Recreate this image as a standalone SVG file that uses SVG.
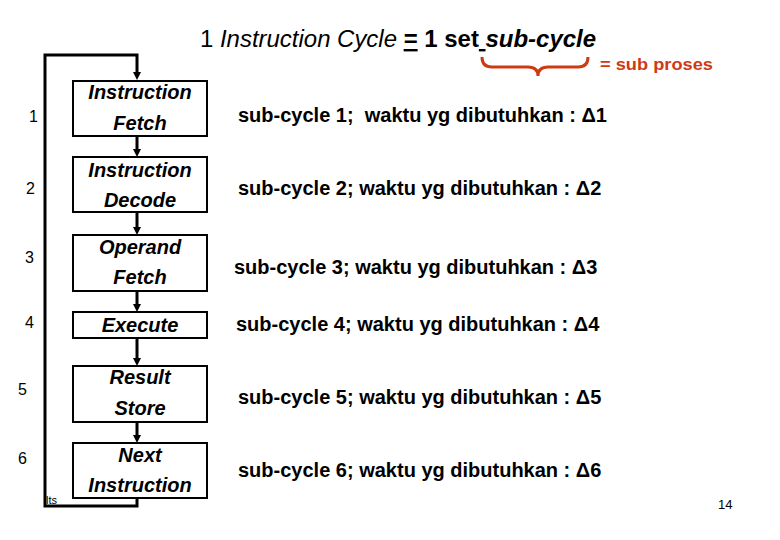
<svg xmlns="http://www.w3.org/2000/svg" width="780" height="540" viewBox="0 0 780 540">
<style>
.box{fill:#fff;stroke:#000;stroke-width:2}
.bt{font-family:"Liberation Sans",Arial,sans-serif;font-size:20px;font-weight:bold;font-style:italic;text-anchor:middle;fill:#000}
.num{font-family:"Liberation Sans",Arial,sans-serif;font-size:16px;fill:#000}
.desc{font-family:"Liberation Sans",Arial,sans-serif;font-size:20px;font-weight:bold;fill:#000}
.ln{fill:none;stroke:#000;stroke-width:3}
.ah{fill:#000}
</style>
<rect width="780" height="540" fill="#fff"/>
<text x="200" y="47" font-family="'Liberation Sans',Arial,sans-serif" font-size="24" fill="#000" textLength="396" lengthAdjust="spacingAndGlyphs"><tspan>1 </tspan><tspan font-style="italic">Instruction Cycle </tspan><tspan font-weight="bold" text-decoration="underline">=</tspan><tspan font-weight="bold"> 1 set</tspan><tspan font-weight="bold" text-decoration="underline"> </tspan><tspan font-weight="bold" font-style="italic">sub-cycle</tspan></text>
<g id="brace">
<path d="M482,57 Q482,67 492,67 L528,67 Q538,67 538,76 Q538,67 548,67 L578,67 Q588,67 588,57" fill="none" stroke="#D03A12" stroke-width="3"/>
<text x="600" y="70" font-family="'Liberation Sans',Arial,sans-serif" font-size="17" font-weight="bold" fill="#D03A12" textLength="113" lengthAdjust="spacingAndGlyphs">= sub proses</text>
</g>
<g id="connectors">
<path class="ln" d="M137,498 V506 H45 V55 H137 V72"/>
<path class="ah" d="M133,72 L141,72 L137,80 Z"/>
<line class="ln" x1="137" y1="136" x2="137" y2="150"/>
<path class="ah" d="M133,149 L141,149 L137,157 Z"/>
<line class="ln" x1="137" y1="212" x2="137" y2="228"/>
<path class="ah" d="M133,227 L141,227 L137,235 Z"/>
<line class="ln" x1="137" y1="291" x2="137" y2="305"/>
<path class="ah" d="M133,304 L141,304 L137,312 Z"/>
<line class="ln" x1="137" y1="338" x2="137" y2="359"/>
<path class="ah" d="M133,358 L141,358 L137,366 Z"/>
<line class="ln" x1="137" y1="422" x2="137" y2="436"/>
<path class="ah" d="M133,435 L141,435 L137,443 Z"/>
</g>
<g id="n1">
<rect class="box" x="73" y="81" width="134" height="55"/>
<text class="bt" x="140" y="99">Instruction</text>
<text class="bt" x="140" y="130">Fetch</text>
<text class="num" x="29" y="122">1</text>
<text class="desc" x="238" y="122" style="white-space:pre">sub-cycle 1;  waktu yg dibutuhkan : Δ1</text>
</g>
<g id="n2">
<rect class="box" x="73" y="157" width="134" height="55"/>
<text class="bt" x="140" y="177">Instruction</text>
<text class="bt" x="140" y="207">Decode</text>
<text class="num" x="26" y="194">2</text>
<text class="desc" x="238" y="195">sub-cycle 2; waktu yg dibutuhkan : Δ2</text>
</g>
<g id="n3">
<rect class="box" x="73" y="235" width="134" height="56"/>
<text class="bt" x="140" y="254">Operand</text>
<text class="bt" x="140" y="284">Fetch</text>
<text class="num" x="25" y="263">3</text>
<text class="desc" x="234" y="274">sub-cycle 3; waktu yg dibutuhkan : Δ3</text>
</g>
<g id="n4">
<rect class="box" x="73" y="312" width="134" height="26"/>
<text class="bt" x="140" y="332">Execute</text>
<text class="num" x="25" y="328">4</text>
<text class="desc" x="236" y="331">sub-cycle 4; waktu yg dibutuhkan : Δ4</text>
</g>
<g id="n5">
<rect class="box" x="73" y="366" width="134" height="56"/>
<text class="bt" x="140" y="384">Result</text>
<text class="bt" x="140" y="415">Store</text>
<text class="num" x="18" y="395">5</text>
<text class="desc" x="238" y="404">sub-cycle 5; waktu yg dibutuhkan : Δ5</text>
</g>
<g id="n6">
<rect class="box" x="73" y="443" width="134" height="55"/>
<text class="bt" x="140" y="462">Next</text>
<text class="bt" x="140" y="492">Instruction</text>
<text class="num" x="18" y="464">6</text>
<text class="desc" x="238" y="477">sub-cycle 6; waktu yg dibutuhkan : Δ6</text>
</g>
<text x="46" y="504" font-family="'Liberation Sans',Arial,sans-serif" font-size="11" fill="#000">lts</text>
<text x="718" y="509" font-family="'Liberation Sans',Arial,sans-serif" font-size="13" fill="#000">14</text>
</svg>
